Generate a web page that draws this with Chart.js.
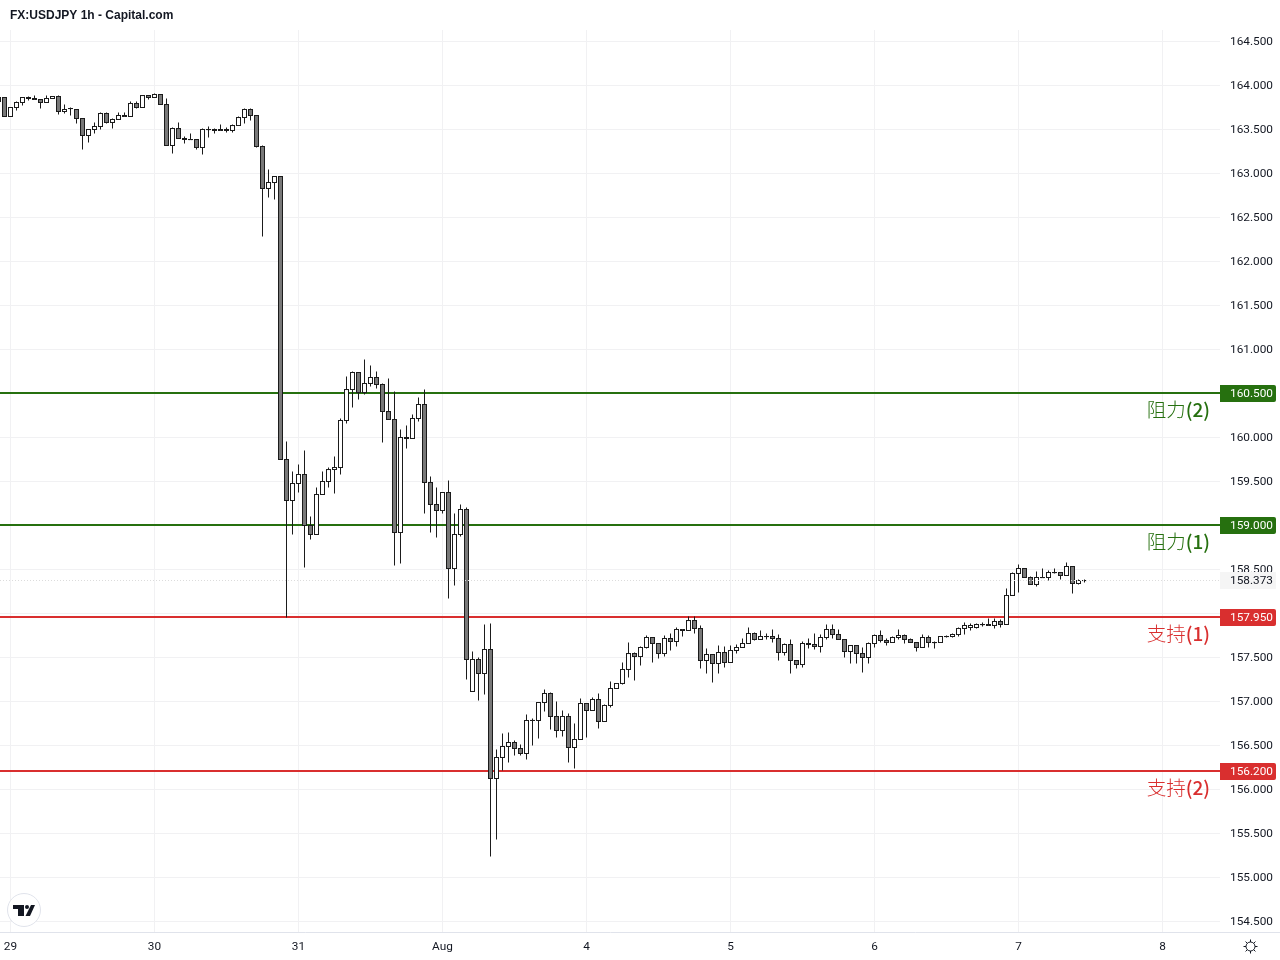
<!DOCTYPE html>
<html>
<head>
<meta charset="utf-8">
<style>
html, body { margin: 0; padding: 0; background: #fff; }
canvas { display: block; }
</style>
<script src="https://cdn.jsdelivr.net/npm/chart.js@4/dist/chart.umd.min.js"></script>
</head>
<body>
<canvas id="usdjpy-chart" width="1280" height="960"></canvas>
<script>
const titleText = 'FX:USDJPY 1h - Capital.com';

// hourly candles, first one sits 2 hours before the "29" tick
const firstHour = -2;
const opens = [163.818,163.864,163.648,163.750,163.807,163.864,163.852,163.841,163.807,163.852,163.875,163.705,163.736,163.727,163.625,163.432,163.500,163.534,163.682,163.580,163.614,163.659,163.648,163.796,163.750,163.886,163.864,163.898,163.784,163.318,163.511,163.398,163.386,163.386,163.295,163.497,163.500,163.500,163.500,163.489,163.545,163.636,163.727,163.659,163.307,162.830,162.898,162.966,159.750,159.284,159.477,159.580,159.000,158.898,159.352,159.500,159.636,159.659,160.193,160.545,160.739,160.511,160.614,160.682,160.602,160.295,160.205,158.920,160.000,159.989,160.216,160.375,159.489,159.239,159.170,159.375,158.511,158.898,159.182,157.114,157.477,157.318,157.591,156.125,156.364,156.489,156.534,156.466,156.409,156.784,156.784,156.989,157.091,156.830,156.670,156.830,156.477,156.568,156.977,156.898,157.023,156.773,156.955,157.148,157.205,157.364,157.545,157.511,157.614,157.727,157.659,157.545,157.716,157.682,157.818,157.807,157.920,157.830,157.466,157.534,157.432,157.557,157.443,157.580,157.614,157.659,157.773,157.705,157.736,157.739,157.716,157.557,157.648,157.466,157.420,157.659,157.648,157.625,157.727,157.818,157.761,157.705,157.568,157.636,157.545,157.500,157.659,157.750,157.693,157.670,157.727,157.750,157.705,157.670,157.614,157.727,157.667,157.670,157.736,157.739,157.761,157.830,157.841,157.841,157.872,157.875,157.864,157.909,157.875,158.205,158.455,158.511,158.409,158.330,158.406,158.409,158.463,158.466,158.432,158.534,158.341,158.376];
const highs = [163.864,163.864,163.750,163.818,163.864,163.875,163.886,163.841,163.886,163.875,163.886,163.784,163.750,163.727,163.625,163.500,163.580,163.693,163.693,163.625,163.693,163.693,163.818,163.818,163.886,163.886,163.909,163.898,163.852,163.523,163.580,163.420,163.455,163.386,163.511,163.534,163.511,163.557,163.523,163.557,163.648,163.739,163.739,163.659,163.318,163.045,162.966,162.966,159.955,159.614,159.693,159.852,159.102,159.432,159.614,159.659,159.784,160.216,160.693,160.750,160.739,160.886,160.818,160.750,160.614,160.670,160.523,160.091,160.136,160.261,160.455,160.545,159.557,159.432,159.375,159.511,159.136,159.239,159.205,157.568,157.500,157.875,157.886,156.455,156.636,156.648,156.557,156.511,156.852,156.807,156.989,157.136,157.102,157.000,156.898,156.864,156.750,157.034,156.977,157.045,157.091,156.966,157.227,157.205,157.443,157.670,157.557,157.625,157.750,157.727,157.659,157.750,157.773,157.841,157.818,157.966,157.966,157.864,157.602,157.534,157.636,157.625,157.636,157.648,157.716,157.841,157.784,157.807,157.773,157.818,157.761,157.659,157.705,157.466,157.682,157.716,157.773,157.761,157.875,157.875,157.818,157.705,157.636,157.636,157.614,157.670,157.761,157.807,157.716,157.739,157.818,157.761,157.716,157.670,157.761,157.750,157.682,157.739,157.750,157.773,157.841,157.898,157.886,157.886,157.898,157.943,157.943,157.932,158.284,158.466,158.557,158.511,158.420,158.477,158.511,158.489,158.511,158.466,158.580,158.534,158.386,158.386];
const lows = [163.818,163.648,163.648,163.716,163.773,163.830,163.841,163.739,163.807,163.852,163.670,163.682,163.659,163.568,163.273,163.352,163.455,163.500,163.568,163.511,163.614,163.648,163.648,163.739,163.750,163.841,163.864,163.784,163.318,163.227,163.398,163.341,163.383,163.273,163.216,163.409,163.455,163.489,163.466,163.466,163.545,163.568,163.602,163.295,162.284,162.727,162.705,159.750,157.955,158.898,159.375,158.523,158.841,158.898,159.352,159.432,159.364,159.580,160.159,160.341,160.432,160.489,160.580,160.557,159.943,160.205,158.545,158.568,159.875,159.989,160.182,159.136,158.920,158.864,159.136,158.170,158.318,158.875,157.250,157.114,157.011,157.080,155.239,155.432,156.216,156.307,156.386,156.386,156.341,156.500,156.580,156.886,156.682,156.591,156.602,156.307,156.239,156.568,156.591,156.898,156.693,156.773,156.932,157.148,157.193,157.273,157.239,157.409,157.602,157.443,157.489,157.511,157.580,157.625,157.739,157.807,157.773,157.375,157.318,157.216,157.318,157.386,157.443,157.545,157.614,157.659,157.693,157.705,157.705,157.670,157.466,157.523,157.318,157.375,157.386,157.602,157.591,157.557,157.705,157.716,157.705,157.500,157.432,157.432,157.330,157.432,157.614,157.670,157.636,157.670,157.705,157.659,157.670,157.568,157.614,157.614,157.602,157.670,157.727,157.727,157.739,157.761,157.807,157.830,157.852,157.864,157.830,157.841,157.875,158.205,158.239,158.409,158.330,158.307,158.406,158.375,158.455,158.386,158.432,158.227,158.330,158.352];
const closes = [163.864,163.648,163.750,163.807,163.864,163.852,163.841,163.807,163.852,163.875,163.705,163.727,163.739,163.625,163.432,163.500,163.534,163.682,163.580,163.614,163.659,163.648,163.796,163.750,163.886,163.864,163.898,163.784,163.318,163.511,163.398,163.386,163.383,163.295,163.500,163.500,163.489,163.489,163.489,163.545,163.636,163.727,163.659,163.307,162.830,162.898,162.966,159.750,159.284,159.477,159.580,159.000,158.898,159.352,159.500,159.636,159.659,160.193,160.545,160.739,160.511,160.614,160.682,160.602,160.295,160.205,158.920,160.000,159.989,160.216,160.375,159.489,159.239,159.170,159.375,158.511,158.898,159.182,157.477,157.477,157.318,157.591,156.125,156.364,156.489,156.534,156.466,156.409,156.784,156.787,156.989,157.091,156.830,156.670,156.830,156.477,156.568,156.977,156.898,157.023,156.773,156.955,157.148,157.205,157.364,157.545,157.511,157.614,157.727,157.659,157.545,157.716,157.682,157.818,157.807,157.920,157.830,157.466,157.534,157.432,157.557,157.443,157.580,157.614,157.659,157.773,157.705,157.739,157.739,157.716,157.557,157.648,157.466,157.420,157.659,157.648,157.625,157.727,157.818,157.761,157.705,157.568,157.636,157.545,157.500,157.659,157.750,157.693,157.670,157.727,157.750,157.705,157.670,157.614,157.727,157.670,157.670,157.739,157.739,157.761,157.830,157.864,157.864,157.875,157.875,157.864,157.909,157.875,158.205,158.455,158.511,158.409,158.330,158.409,158.409,158.466,158.466,158.432,158.534,158.341,158.375,158.373];

const priceTicks = [164.5,164,163.5,163,162.5,162,161.5,161,160.5,160,159.5,159,158.5,158,157.5,157,156.5,156,155.5,155,154.5];
const dayTicks = [0,24,48,72,96,120,144,168,192];
const dayLabels = ['29','30','31','Aug','4','5','6','7','8'];

const levelValues = [160.5,159,157.95,156.2];
const levelNames = ['阻力','阻力','支持','支持'];
const levelNums = ['(2)','(1)','(1)','(2)'];
const levelColors = ['#26700f','#26700f','#d92f2f','#d92f2f'];
const lastPrice = 158.373;

const dark = '#1b1b1b';
const tickFont = 'Roboto';

const wicks = lows.map((l, i) => ({x: firstHour + i, y: [l, highs[i]]}));
const bodies = opens.map((o, i) => ({x: firstHour + i, y: [o, closes[i]]}));

function bodyColor(ctx) {
    const i = ctx.dataIndex;
    const diff = closes[i] - opens[i];
    if (Math.abs(diff) < 0.02) return dark; // too thin to show any fill
    return diff > 0 ? '#ffffff' : '#787878';
}

const overlay = {
    id: 'overlay',
    beforeDatasetsDraw(chart) {
        const c = chart.ctx, y = chart.scales.y, area = chart.chartArea;
        levelValues.forEach((v, i) => {
            c.fillStyle = levelColors[i];
            c.fillRect(area.left, Math.floor(y.getPixelForValue(v)) - 1, area.right - area.left, 2);
        });
    },
    afterDatasetsDraw(chart) {
        const c = chart.ctx, y = chart.scales.y, area = chart.chartArea;
        // dotted last price line
        c.save();
        c.strokeStyle = '#dcdcdc';
        c.setLineDash([1, 2]);
        c.lineWidth = 1;
        const ly = Math.floor(y.getPixelForValue(lastPrice)) + 0.5;
        c.beginPath();
        c.moveTo(area.left, ly);
        c.lineTo(area.right, ly);
        c.stroke();
        c.restore();
    },
    afterDraw(chart) {
        const c = chart.ctx, y = chart.scales.y, area = chart.chartArea;
        c.save();

        c.fillStyle = '#131722';
        c.font = 'bold 12px "Liberation Sans"';
        c.textAlign = 'left';
        c.textBaseline = 'middle';
        c.fillText(titleText, 10, 15.5);

        // bottom line carries on under the price axis
        c.fillStyle = '#e0e3eb';
        c.fillRect(area.right + 1, 932, 60, 1);

        // last price box
        const ly = Math.floor(y.getPixelForValue(lastPrice));
        c.fillStyle = '#f5f5f5';
        c.fillRect(1220, ly - 8, 56, 17);
        c.fillStyle = '#131722';
        c.font = '11.8px ' + tickFont;
        c.fillText(lastPrice.toFixed(3), 1230, ly + 1.5);

        levelValues.forEach((v, i) => {
            const py = Math.floor(y.getPixelForValue(v));
            c.fillStyle = levelColors[i];
            c.beginPath();
            c.roundRect(1220, py - 8, 56, 17, [0, 2, 2, 0]);
            c.fill();
            c.fillStyle = '#ffffff';
            c.font = '11.8px ' + tickFont;
            c.textAlign = 'left';
            c.fillText(v.toFixed(3), 1230, py + 1.5);

            c.fillStyle = levelColors[i];
            c.textAlign = 'right';
            c.font = '500 19px "Noto Sans CJK SC"';
            c.fillText(levelNums[i], 1210, py + 17);
            const numW = c.measureText(levelNums[i]).width;
            c.font = '300 19.5px "Noto Sans CJK SC"';
            c.fillText(levelNames[i], 1210 - numW, py + 17);
        });

        // logo badge
        c.beginPath();
        c.arc(24, 910, 16.5, 0, Math.PI * 2);
        c.fillStyle = '#ffffff';
        c.fill();
        c.strokeStyle = '#e0e3eb';
        c.lineWidth = 1;
        c.stroke();
        c.fillStyle = '#131722';
        c.fillRect(13, 905, 11, 4);
        c.fillRect(18, 905, 6, 11);
        c.beginPath();
        c.arc(27, 907, 2, 0, Math.PI * 2);
        c.fill();
        c.beginPath();
        c.moveTo(31, 905);
        c.lineTo(35, 905);
        c.lineTo(30, 916);
        c.lineTo(25.5, 916);
        c.closePath();
        c.fill();

        // settings icon
        c.strokeStyle = '#131722';
        c.lineWidth = 1;
        c.beginPath();
        c.arc(1250.5, 946.5, 4.5, 0, Math.PI * 2);
        c.stroke();
        for (let a = 0; a < 8; a++) {
            const ang = a * Math.PI / 4;
            c.beginPath();
            c.moveTo(1250.5 + Math.cos(ang) * 4.5, 946.5 + Math.sin(ang) * 4.5);
            c.lineTo(1250.5 + Math.cos(ang) * 7, 946.5 + Math.sin(ang) * 7);
            c.stroke();
        }
        c.restore();
    }
};

new Chart(document.getElementById('usdjpy-chart').getContext('2d'), {
    type: 'bar',
    data: {
        datasets: [
            {
                label: 'wick',
                data: wicks,
                grouped: false,
                barThickness: 1,
                backgroundColor: dark,
                borderWidth: 0,
                inflateAmount: 0,
                order: 2
            },
            {
                label: 'body',
                data: bodies,
                grouped: false,
                barThickness: 4,
                backgroundColor: bodyColor,
                borderColor: dark,
                borderWidth: 1,
                borderSkipped: false,
                inflateAmount: 0.5,
                order: 1
            }
        ]
    },
    options: {
        responsive: false,
        devicePixelRatio: 1,
        animation: false,
        layout: { padding: { top: 30, left: 0, right: 0, bottom: 0 } },
        plugins: { legend: { display: false }, tooltip: { enabled: false } },
        scales: {
            x: {
                type: 'linear',
                offset: false,
                min: -1.75,
                max: 201.5833,
                afterFit: s => { s.height = 28; s.paddingLeft = 0; s.paddingRight = 0; },
                afterBuildTicks: s => { s.ticks = dayTicks.map(v => ({value: v})); },
                grid: { color: '#f1f1f3', drawTicks: false, offset: false },
                border: { color: '#e0e3eb' },
                ticks: {
                    autoSkip: false,
                    maxRotation: 0,
                    padding: 8,
                    color: '#131722',
                    font: { family: tickFont, size: 11.8 },
                    callback: v => dayLabels[dayTicks.indexOf(v)]
                }
            },
            y: {
                position: 'right',
                min: 154.3807,
                max: 164.6307,
                afterFit: s => { s.width = 60; },
                afterBuildTicks: s => { s.ticks = priceTicks.map(v => ({value: v})); },
                grid: { color: '#f1f1f3', drawTicks: false },
                border: { display: false },
                ticks: {
                    autoSkip: false,
                    padding: 10,
                    labelOffset: 1,
                    color: '#131722',
                    font: { family: tickFont, size: 11.8 },
                    callback: v => v.toFixed(3)
                }
            }
        }
    },
    plugins: [overlay]
});
</script>
</body>
</html>
